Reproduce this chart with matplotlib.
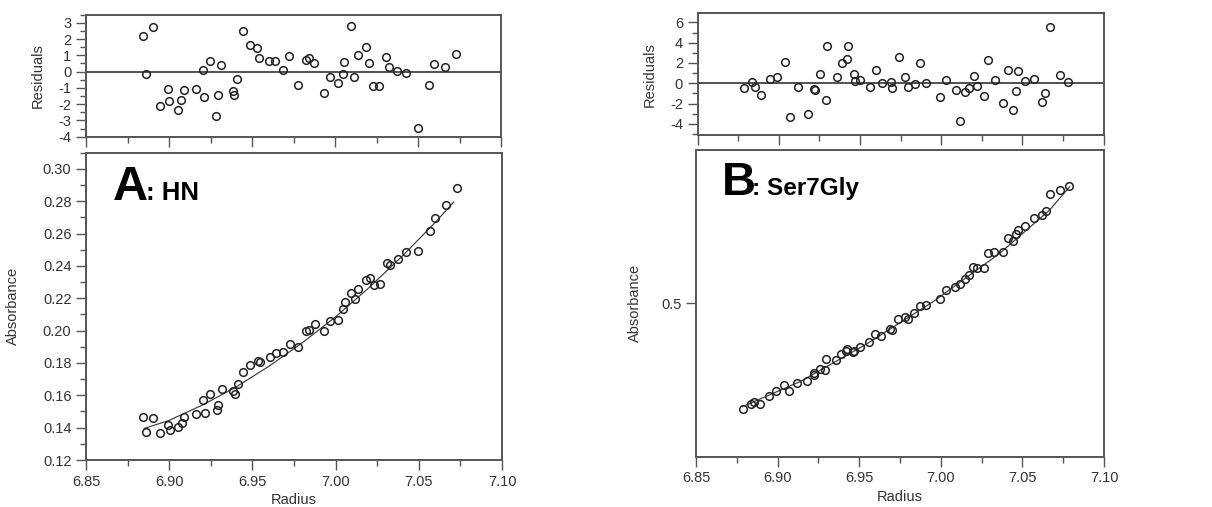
import matplotlib
matplotlib.use("Agg")
import matplotlib.pyplot as plt
from matplotlib.ticker import MultipleLocator, FixedLocator, NullLocator, NullFormatter, FormatStrFormatter

plt.rcParams['font.family'] = ['Liberation Sans', 'DejaVu Sans']
plt.rcParams['axes.unicode_minus'] = False

# ---------------- Panel A (HN) ----------------
radius_a = [6.8842, 6.8862, 6.8905, 6.8945, 6.8993, 6.9003, 6.9054, 6.9074, 6.9090, 6.9164,
            6.9203, 6.9213, 6.9245, 6.9285, 6.9295, 6.9315, 6.9384, 6.9394, 6.9412, 6.9444,
            6.9486, 6.9533, 6.9545, 6.9603, 6.9639, 6.9684, 6.9724, 6.9776, 6.9824, 6.9843,
            6.9875, 6.9931, 6.9967, 7.0016, 7.0046, 7.0056, 7.0094, 7.0116, 7.0137, 7.0185,
            7.0205, 7.0231, 7.0267, 7.0308, 7.0326, 7.0376, 7.0426, 7.0497, 7.0567, 7.0597,
            7.0664, 7.0728]
resid_a = [2.18, -0.12, 2.74, -2.10, -1.07, -1.79, -2.37, -1.73, -1.13, -1.07,
           0.10, -1.56, 0.64, -2.70, -1.44, 0.43, -1.19, -1.46, -0.43, 2.51,
           1.63, 1.44, 0.82, 0.66, 0.64, 0.10, 0.95, -0.82, 0.74, 0.84,
           0.53, -1.30, -0.35, -0.72, -0.12, 0.58, 2.82, -0.35, 1.05, 1.52,
           0.51, -0.88, -0.88, 0.91, 0.27, 0.04, -0.06, -3.44, -0.82, 0.49,
           0.27, 1.11]
absorb_a = [0.1466, 0.1373, 0.1460, 0.1365, 0.1415, 0.1388, 0.1406, 0.1430, 0.1466, 0.1487,
            0.1570, 0.1490, 0.1607, 0.1507, 0.1540, 0.1637, 0.1625, 0.1610, 0.1670, 0.1747,
            0.1786, 0.1813, 0.1808, 0.1834, 0.1860, 0.1869, 0.1916, 0.1896, 0.1999, 0.2003,
            0.2040, 0.1999, 0.2060, 0.2067, 0.2133, 0.2174, 0.2232, 0.2195, 0.2257, 0.2313,
            0.2323, 0.2284, 0.2288, 0.2416, 0.2405, 0.2443, 0.2488, 0.2490, 0.2614, 0.2697,
            0.2777, 0.2882]
fit_radius_a = [6.885, 6.900, 6.920, 6.940, 6.960, 6.980, 7.000, 7.020, 7.040, 7.060, 7.071]
fit_absorb_a = [0.1395, 0.1445, 0.1540, 0.1650, 0.1780, 0.1925, 0.2085, 0.2265, 0.2460, 0.2670, 0.2795]

# ---------------- Panel B (Ser7Gly) ----------------
radius_b = [6.8788, 6.8835, 6.8856, 6.8891, 6.8949, 6.8990, 6.9041, 6.9070, 6.9121, 6.9179,
            6.9220, 6.9226, 6.9257, 6.9292, 6.9298, 6.9360, 6.9389, 6.9420, 6.9428, 6.9461,
            6.9469, 6.9502, 6.9560, 6.9599, 6.9634, 6.9691, 6.9698, 6.9739, 6.9778, 6.9798,
            6.9837, 6.9870, 6.9909, 6.9996, 7.0029, 7.0090, 7.0115, 7.0148, 7.0173, 7.0200,
            7.0220, 7.0265, 7.0288, 7.0329, 7.0383, 7.0409, 7.0440, 7.0461, 7.0471, 7.0516,
            7.0572, 7.0621, 7.0642, 7.0671, 7.0733, 7.0784]
resid_b = [-0.48, 0.14, -0.41, -1.20, 0.47, 0.64, 2.09, -3.37, -0.32, -3.04,
           -0.58, -0.70, 0.93, -1.63, 3.63, 0.57, 1.99, 2.38, 3.69, 0.93,
           0.24, 0.34, -0.32, 1.26, 0.01, 0.11, -0.48, 2.58, 0.57, -0.35,
           -0.09, 2.02, 0.01, -1.37, 0.28, -0.68, -3.70, -0.87, -0.51, 0.74,
           -0.25, -1.30, 2.28, 0.28, -1.95, 1.33, -2.62, -0.74, 1.23, 0.21,
           0.41, -1.83, -0.97, 5.51, 0.84, 0.11]
absorb_b = [0.3106, 0.3172, 0.3196, 0.3167, 0.3289, 0.3369, 0.3457, 0.3369, 0.3483, 0.3515,
            0.3617, 0.3644, 0.3710, 0.3699, 0.3888, 0.3870, 0.3977, 0.4030, 0.4060, 0.4019,
            0.4040, 0.4098, 0.4192, 0.4346, 0.4314, 0.4452, 0.4440, 0.4658, 0.4693, 0.4658,
            0.4779, 0.4948, 0.4962, 0.5091, 0.5310, 0.5391, 0.5448, 0.5573, 0.5683, 0.5901,
            0.5857, 0.5857, 0.6268, 0.6296, 0.6315, 0.6708, 0.6628, 0.6831, 0.6965, 0.7103,
            0.7354, 0.7454, 0.7602, 0.8184, 0.8346, 0.8511]
fit_radius_b = [6.8784, 6.9137, 6.9545, 6.9953, 7.0361, 7.0667, 7.0790]
fit_absorb_b = [0.3134, 0.3509, 0.4160, 0.5038, 0.6268, 0.7624, 0.8473]

W, H = 1212, 507
fig = plt.figure(figsize=(W / 100, H / 100), dpi=100)
fig.patch.set_facecolor('white')


def rect(left, top, right, bottom):
    return [left / W, 1 - bottom / H, (right - left) / W, (bottom - top) / H]


TXT = '#333333'
SPINE = '#555555'
FS = 10.5


def style(ax):
    for s in ax.spines.values():
        s.set_color(SPINE)
        s.set_linewidth(1.4)
    ax.tick_params(which='both', direction='out', colors=SPINE, labelcolor=TXT,
                   labelsize=FS, width=1.0)
    ax.tick_params(which='major', length=7)
    ax.tick_params(which='minor', length=4)
    ax.set_xlim(6.85, 7.10)
    ax.xaxis.set_major_locator(MultipleLocator(0.05))
    ax.xaxis.set_minor_locator(MultipleLocator(0.025))


mk = dict(marker='o', ms=5.5, mfc='none', mec='#222222', mew=1.1, ls='none')

# Residuals A
ra = fig.add_axes(rect(86, 14.7, 501, 136.7))
style(ra)
ra.plot(radius_a, resid_a, **mk)
ra.axhline(0, color='#222222', lw=1.1)
ra.set_ylim(-4, 3.5)
ra.yaxis.set_major_locator(MultipleLocator(1))
ra.yaxis.set_minor_locator(MultipleLocator(0.5))
ra.xaxis.set_major_formatter(NullFormatter())
ra.set_ylabel('Residuals', fontsize=FS, color=TXT)
ra.yaxis.set_label_coords(-0.099, 0.5)

# Main A
ma = fig.add_axes(rect(86, 152.7, 502, 460))
style(ma)
ma.plot(fit_radius_a, fit_absorb_a, color='#444444', lw=0.9)
ma.plot(radius_a, absorb_a, **mk)
ma.set_ylim(0.12, 0.31)
ma.yaxis.set_major_locator(MultipleLocator(0.02))
ma.yaxis.set_minor_locator(MultipleLocator(0.01))
ma.yaxis.set_major_formatter(FormatStrFormatter('%.2f'))
ma.xaxis.set_major_formatter(FormatStrFormatter('%.2f'))
ma.set_ylabel('Absorbance', fontsize=FS, color=TXT)
ma.yaxis.set_label_coords(-0.159, 0.5)
ma.set_xlabel('Radius', fontsize=FS, color=TXT)
ma.xaxis.set_label_coords(0.5, -0.107)

# Residuals B
rb = fig.add_axes(rect(697.5, 13.3, 1103.5, 135))
style(rb)
rb.plot(radius_b, resid_b, **mk)
rb.axhline(0, color='#222222', lw=1.1)
rb.set_ylim(-5.1, 6.9)
rb.yaxis.set_major_locator(MultipleLocator(2))
rb.yaxis.set_minor_locator(MultipleLocator(1))
rb.xaxis.set_major_formatter(NullFormatter())
rb.set_ylabel('Residuals', fontsize=FS, color=TXT)
rb.yaxis.set_label_coords(-0.0998, 0.5)

# Main B
mb = fig.add_axes(rect(696, 150, 1104, 456.7))
style(mb)
mb.set_yscale('log')
mb.plot(fit_radius_b, fit_absorb_b, color='#444444', lw=0.9)
mb.plot(radius_b, absorb_b, **mk)
mb.set_ylim(0.25, 1.0)
mb.yaxis.set_major_locator(FixedLocator([0.5]))
mb.yaxis.set_minor_locator(NullLocator())
mb.yaxis.set_major_formatter(FormatStrFormatter('%.1f'))
mb.xaxis.set_major_formatter(FormatStrFormatter('%.2f'))
mb.set_ylabel('Absorbance', fontsize=FS, color=TXT)
mb.yaxis.set_label_coords(-0.132, 0.5)
mb.set_xlabel('Radius', fontsize=FS, color=TXT)
mb.xaxis.set_label_coords(0.5, -0.109)

# Panel titles
fig.text(113 / W, 1 - 200 / H, 'A', fontsize=35, fontweight='bold', color='black', va='baseline')
fig.text(146 / W, 1 - 200 / H, ': HN', fontsize=18.5, fontweight='bold', color='black',
         va='baseline')
fig.text(722 / W, 1 - 195 / H, 'B', fontsize=34, fontweight='bold', color='black', va='baseline')
fig.text(752 / W, 1 - 195 / H, ': Ser7Gly', fontsize=17.5, fontweight='bold', color='black',
         va='baseline')

fig.savefig('out.png', dpi=100, facecolor='white')
